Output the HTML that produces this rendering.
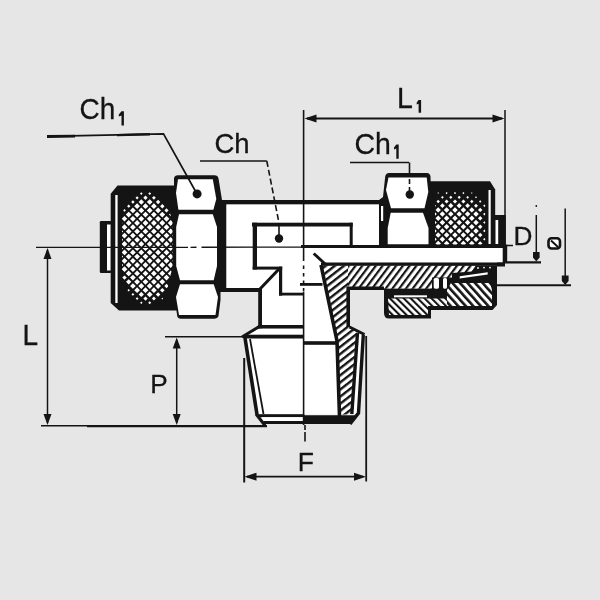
<!DOCTYPE html>
<html><head><meta charset="utf-8">
<style>
html,body{margin:0;padding:0;background:#e6e6e6;overflow:hidden}
svg{display:block;will-change:transform}
text{font-family:"Liberation Sans",sans-serif;fill:#141414;stroke:#141414;stroke-width:0.3px}
</style></head><body>
<svg width="600" height="600" viewBox="0 0 600 600">
<defs>
 <pattern id="h1" patternUnits="userSpaceOnUse" width="5.4" height="20" patternTransform="rotate(37)">
  <rect width="5.4" height="20" fill="#fff"/><rect width="2.2" height="20" fill="#141414"/>
 </pattern>
 <pattern id="h3" patternUnits="userSpaceOnUse" width="5.6" height="20" patternTransform="rotate(52)">
  <rect width="5.6" height="20" fill="#fff"/><rect width="2.4" height="20" fill="#141414"/>
 </pattern>
 <pattern id="h2" patternUnits="userSpaceOnUse" width="4.9" height="20" patternTransform="rotate(-45)">
  <rect width="4.9" height="20" fill="#fff"/><rect width="2.1" height="20" fill="#141414"/>
 </pattern>
 <pattern id="h4" patternUnits="userSpaceOnUse" width="5.6" height="20" patternTransform="rotate(-42)">
  <rect width="5.6" height="20" fill="#fff"/><rect width="2.6" height="20" fill="#141414"/>
 </pattern>
 <clipPath id="ckl"><path d="M122,186 L168,186 L168,206 L172.5,222 L172.5,268 L168,284 L168,310 L122,310 Z"/></clipPath>
 <clipPath id="ckr"><rect x="435" y="185" width="50.5" height="59.5"/></clipPath>
</defs>

<g fill="#141414" stroke="none">
<!-- ===== LEFT TUBE STUB ===== -->
<rect x="99.8" y="221" width="11.5" height="52" rx="1.2"/>
<rect x="107" y="224.5" width="3.8" height="46" fill="#fff"/>

<!-- ===== LEFT KNURL NUT ===== -->
<path d="M110.7,193.7 L117.5,185.5 L178,185.5 L178,310.5 L119,310.5 L110.7,303 Z"/>
<rect x="115.3" y="195" width="2.3" height="108" fill="#fff"/>
<path clip-path="url(#ckl)" fill="#fff" d="M141.30,192.31l1.29,1.29l-1.29,1.29l-1.29,-1.29zM149.70,192.16l1.44,1.44l-1.44,1.44l-1.44,-1.44zM137.10,196.19l1.61,1.61l-1.61,1.61l-1.61,-1.61zM145.50,195.62l2.18,2.18l-2.18,2.18l-2.18,-2.18zM153.90,195.89l1.91,1.91l-1.91,1.91l-1.91,-1.91zM132.90,200.28l1.72,1.72l-1.72,1.72l-1.72,-1.72zM141.30,199.29l2.71,2.71l-2.71,2.71l-2.71,-2.71zM149.70,199.14l2.86,2.86l-2.86,2.86l-2.86,-2.86zM158.10,199.83l2.17,2.17l-2.17,2.17l-2.17,-2.17zM128.70,204.57l1.63,1.63l-1.63,1.63l-1.63,-1.63zM137.10,203.30l2.90,2.90l-2.90,2.90l-2.90,-2.90zM145.50,203.30l2.90,2.90l-2.90,2.90l-2.90,-2.90zM153.90,203.30l2.90,2.90l-2.90,2.90l-2.90,-2.90zM162.30,203.98l2.22,2.22l-2.22,2.22l-2.22,-2.22zM124.50,209.08l1.32,1.32l-1.32,1.32l-1.32,-1.32zM132.90,207.50l2.90,2.90l-2.90,2.90l-2.90,-2.90zM141.30,207.50l2.90,2.90l-2.90,2.90l-2.90,-2.90zM149.70,207.50l2.90,2.90l-2.90,2.90l-2.90,-2.90zM158.10,207.50l2.90,2.90l-2.90,2.90l-2.90,-2.90zM166.50,208.33l2.07,2.07l-2.07,2.07l-2.07,-2.07zM128.70,211.70l2.90,2.90l-2.90,2.90l-2.90,-2.90zM137.10,211.70l2.90,2.90l-2.90,2.90l-2.90,-2.90zM145.50,211.70l2.90,2.90l-2.90,2.90l-2.90,-2.90zM153.90,211.70l2.90,2.90l-2.90,2.90l-2.90,-2.90zM162.30,211.70l2.90,2.90l-2.90,2.90l-2.90,-2.90zM170.70,212.89l1.71,1.71l-1.71,1.71l-1.71,-1.71zM124.50,216.06l2.74,2.74l-2.74,2.74l-2.74,-2.74zM132.90,215.90l2.90,2.90l-2.90,2.90l-2.90,-2.90zM141.30,215.90l2.90,2.90l-2.90,2.90l-2.90,-2.90zM149.70,215.90l2.90,2.90l-2.90,2.90l-2.90,-2.90zM158.10,215.90l2.90,2.90l-2.90,2.90l-2.90,-2.90zM166.50,215.90l2.90,2.90l-2.90,2.90l-2.90,-2.90zM174.90,217.67l1.13,1.13l-1.13,1.13l-1.13,-1.13zM120.30,220.77l2.23,2.23l-2.23,2.23l-2.23,-2.23zM128.70,220.10l2.90,2.90l-2.90,2.90l-2.90,-2.90zM137.10,220.10l2.90,2.90l-2.90,2.90l-2.90,-2.90zM145.50,220.10l2.90,2.90l-2.90,2.90l-2.90,-2.90zM153.90,220.10l2.90,2.90l-2.90,2.90l-2.90,-2.90zM162.30,220.10l2.90,2.90l-2.90,2.90l-2.90,-2.90zM170.70,220.10l2.90,2.90l-2.90,2.90l-2.90,-2.90zM116.10,225.69l1.51,1.51l-1.51,1.51l-1.51,-1.51zM124.50,224.30l2.90,2.90l-2.90,2.90l-2.90,-2.90zM132.90,224.30l2.90,2.90l-2.90,2.90l-2.90,-2.90zM141.30,224.30l2.90,2.90l-2.90,2.90l-2.90,-2.90zM149.70,224.30l2.90,2.90l-2.90,2.90l-2.90,-2.90zM158.10,224.30l2.90,2.90l-2.90,2.90l-2.90,-2.90zM166.50,224.30l2.90,2.90l-2.90,2.90l-2.90,-2.90zM174.90,224.65l2.55,2.55l-2.55,2.55l-2.55,-2.55zM120.30,228.50l2.90,2.90l-2.90,2.90l-2.90,-2.90zM128.70,228.50l2.90,2.90l-2.90,2.90l-2.90,-2.90zM137.10,228.50l2.90,2.90l-2.90,2.90l-2.90,-2.90zM145.50,228.50l2.90,2.90l-2.90,2.90l-2.90,-2.90zM153.90,228.50l2.90,2.90l-2.90,2.90l-2.90,-2.90zM162.30,228.50l2.90,2.90l-2.90,2.90l-2.90,-2.90zM170.70,228.50l2.90,2.90l-2.90,2.90l-2.90,-2.90zM179.10,229.63l1.77,1.77l-1.77,1.77l-1.77,-1.77zM116.10,232.70l2.90,2.90l-2.90,2.90l-2.90,-2.90zM124.50,232.70l2.90,2.90l-2.90,2.90l-2.90,-2.90zM132.90,232.70l2.90,2.90l-2.90,2.90l-2.90,-2.90zM141.30,232.70l2.90,2.90l-2.90,2.90l-2.90,-2.90zM149.70,232.70l2.90,2.90l-2.90,2.90l-2.90,-2.90zM158.10,232.70l2.90,2.90l-2.90,2.90l-2.90,-2.90zM166.50,232.70l2.90,2.90l-2.90,2.90l-2.90,-2.90zM174.90,232.70l2.90,2.90l-2.90,2.90l-2.90,-2.90zM111.90,237.80l2.00,2.00l-2.00,2.00l-2.00,-2.00zM120.30,236.90l2.90,2.90l-2.90,2.90l-2.90,-2.90zM128.70,236.90l2.90,2.90l-2.90,2.90l-2.90,-2.90zM137.10,236.90l2.90,2.90l-2.90,2.90l-2.90,-2.90zM145.50,236.90l2.90,2.90l-2.90,2.90l-2.90,-2.90zM153.90,236.90l2.90,2.90l-2.90,2.90l-2.90,-2.90zM162.30,236.90l2.90,2.90l-2.90,2.90l-2.90,-2.90zM170.70,236.90l2.90,2.90l-2.90,2.90l-2.90,-2.90zM179.10,236.90l2.90,2.90l-2.90,2.90l-2.90,-2.90zM116.10,241.10l2.90,2.90l-2.90,2.90l-2.90,-2.90zM124.50,241.10l2.90,2.90l-2.90,2.90l-2.90,-2.90zM132.90,241.10l2.90,2.90l-2.90,2.90l-2.90,-2.90zM141.30,241.10l2.90,2.90l-2.90,2.90l-2.90,-2.90zM149.70,241.10l2.90,2.90l-2.90,2.90l-2.90,-2.90zM158.10,241.10l2.90,2.90l-2.90,2.90l-2.90,-2.90zM166.50,241.10l2.90,2.90l-2.90,2.90l-2.90,-2.90zM174.90,241.10l2.90,2.90l-2.90,2.90l-2.90,-2.90zM183.30,241.80l2.20,2.20l-2.20,2.20l-2.20,-2.20zM111.90,245.85l2.35,2.35l-2.35,2.35l-2.35,-2.35zM120.30,245.30l2.90,2.90l-2.90,2.90l-2.90,-2.90zM128.70,245.30l2.90,2.90l-2.90,2.90l-2.90,-2.90zM137.10,245.30l2.90,2.90l-2.90,2.90l-2.90,-2.90zM145.50,245.30l2.90,2.90l-2.90,2.90l-2.90,-2.90zM153.90,245.30l2.90,2.90l-2.90,2.90l-2.90,-2.90zM162.30,245.30l2.90,2.90l-2.90,2.90l-2.90,-2.90zM170.70,245.30l2.90,2.90l-2.90,2.90l-2.90,-2.90zM179.10,245.30l2.90,2.90l-2.90,2.90l-2.90,-2.90zM116.10,249.50l2.90,2.90l-2.90,2.90l-2.90,-2.90zM124.50,249.50l2.90,2.90l-2.90,2.90l-2.90,-2.90zM132.90,249.50l2.90,2.90l-2.90,2.90l-2.90,-2.90zM141.30,249.50l2.90,2.90l-2.90,2.90l-2.90,-2.90zM149.70,249.50l2.90,2.90l-2.90,2.90l-2.90,-2.90zM158.10,249.50l2.90,2.90l-2.90,2.90l-2.90,-2.90zM166.50,249.50l2.90,2.90l-2.90,2.90l-2.90,-2.90zM174.90,249.50l2.90,2.90l-2.90,2.90l-2.90,-2.90zM183.30,250.39l2.01,2.01l-2.01,2.01l-2.01,-2.01zM111.90,255.67l0.93,0.93l-0.93,0.93l-0.93,-0.93zM120.30,253.70l2.90,2.90l-2.90,2.90l-2.90,-2.90zM128.70,253.70l2.90,2.90l-2.90,2.90l-2.90,-2.90zM137.10,253.70l2.90,2.90l-2.90,2.90l-2.90,-2.90zM145.50,253.70l2.90,2.90l-2.90,2.90l-2.90,-2.90zM153.90,253.70l2.90,2.90l-2.90,2.90l-2.90,-2.90zM162.30,253.70l2.90,2.90l-2.90,2.90l-2.90,-2.90zM170.70,253.70l2.90,2.90l-2.90,2.90l-2.90,-2.90zM179.10,253.70l2.90,2.90l-2.90,2.90l-2.90,-2.90zM116.10,258.74l2.06,2.06l-2.06,2.06l-2.06,-2.06zM124.50,257.90l2.90,2.90l-2.90,2.90l-2.90,-2.90zM132.90,257.90l2.90,2.90l-2.90,2.90l-2.90,-2.90zM141.30,257.90l2.90,2.90l-2.90,2.90l-2.90,-2.90zM149.70,257.90l2.90,2.90l-2.90,2.90l-2.90,-2.90zM158.10,257.90l2.90,2.90l-2.90,2.90l-2.90,-2.90zM166.50,257.90l2.90,2.90l-2.90,2.90l-2.90,-2.90zM174.90,257.90l2.90,2.90l-2.90,2.90l-2.90,-2.90zM120.30,262.10l2.90,2.90l-2.90,2.90l-2.90,-2.90zM128.70,262.10l2.90,2.90l-2.90,2.90l-2.90,-2.90zM137.10,262.10l2.90,2.90l-2.90,2.90l-2.90,-2.90zM145.50,262.10l2.90,2.90l-2.90,2.90l-2.90,-2.90zM153.90,262.10l2.90,2.90l-2.90,2.90l-2.90,-2.90zM162.30,262.10l2.90,2.90l-2.90,2.90l-2.90,-2.90zM170.70,262.10l2.90,2.90l-2.90,2.90l-2.90,-2.90zM179.10,263.33l1.67,1.67l-1.67,1.67l-1.67,-1.67zM124.50,266.30l2.90,2.90l-2.90,2.90l-2.90,-2.90zM132.90,266.30l2.90,2.90l-2.90,2.90l-2.90,-2.90zM141.30,266.30l2.90,2.90l-2.90,2.90l-2.90,-2.90zM149.70,266.30l2.90,2.90l-2.90,2.90l-2.90,-2.90zM158.10,266.30l2.90,2.90l-2.90,2.90l-2.90,-2.90zM166.50,266.30l2.90,2.90l-2.90,2.90l-2.90,-2.90zM174.90,266.67l2.53,2.53l-2.53,2.53l-2.53,-2.53zM120.30,271.86l1.54,1.54l-1.54,1.54l-1.54,-1.54zM128.70,270.50l2.90,2.90l-2.90,2.90l-2.90,-2.90zM137.10,270.50l2.90,2.90l-2.90,2.90l-2.90,-2.90zM145.50,270.50l2.90,2.90l-2.90,2.90l-2.90,-2.90zM153.90,270.50l2.90,2.90l-2.90,2.90l-2.90,-2.90zM162.30,270.50l2.90,2.90l-2.90,2.90l-2.90,-2.90zM170.70,270.50l2.90,2.90l-2.90,2.90l-2.90,-2.90zM124.50,275.39l2.21,2.21l-2.21,2.21l-2.21,-2.21zM132.90,274.70l2.90,2.90l-2.90,2.90l-2.90,-2.90zM141.30,274.70l2.90,2.90l-2.90,2.90l-2.90,-2.90zM149.70,274.70l2.90,2.90l-2.90,2.90l-2.90,-2.90zM158.10,274.70l2.90,2.90l-2.90,2.90l-2.90,-2.90zM166.50,274.70l2.90,2.90l-2.90,2.90l-2.90,-2.90zM174.90,276.49l1.11,1.11l-1.11,1.11l-1.11,-1.11zM128.70,279.15l2.65,2.65l-2.65,2.65l-2.65,-2.65zM137.10,278.90l2.90,2.90l-2.90,2.90l-2.90,-2.90zM145.50,278.90l2.90,2.90l-2.90,2.90l-2.90,-2.90zM153.90,278.90l2.90,2.90l-2.90,2.90l-2.90,-2.90zM162.30,278.90l2.90,2.90l-2.90,2.90l-2.90,-2.90zM170.70,280.06l1.74,1.74l-1.74,1.74l-1.74,-1.74zM132.90,283.13l2.87,2.87l-2.87,2.87l-2.87,-2.87zM141.30,283.10l2.90,2.90l-2.90,2.90l-2.90,-2.90zM149.70,283.10l2.90,2.90l-2.90,2.90l-2.90,-2.90zM158.10,283.10l2.90,2.90l-2.90,2.90l-2.90,-2.90zM166.50,283.86l2.14,2.14l-2.14,2.14l-2.14,-2.14zM128.70,288.97l1.23,1.23l-1.23,1.23l-1.23,-1.23zM137.10,287.34l2.86,2.86l-2.86,2.86l-2.86,-2.86zM145.50,287.30l2.90,2.90l-2.90,2.90l-2.90,-2.90zM153.90,287.30l2.90,2.90l-2.90,2.90l-2.90,-2.90zM162.30,287.89l2.31,2.31l-2.31,2.31l-2.31,-2.31zM132.90,292.95l1.45,1.45l-1.45,1.45l-1.45,-1.45zM141.30,291.77l2.63,2.63l-2.63,2.63l-2.63,-2.63zM149.70,291.50l2.90,2.90l-2.90,2.90l-2.90,-2.90zM158.10,292.14l2.26,2.26l-2.26,2.26l-2.26,-2.26zM137.10,297.16l1.44,1.44l-1.44,1.44l-1.44,-1.44zM145.50,296.43l2.17,2.17l-2.17,2.17l-2.17,-2.17zM153.90,296.62l1.98,1.98l-1.98,1.98l-1.98,-1.98zM162.30,297.71l0.89,0.89l-0.89,0.89l-0.89,-0.89zM141.30,301.59l1.21,1.21l-1.21,1.21l-1.21,-1.21zM149.70,301.32l1.48,1.48l-1.48,1.48l-1.48,-1.48z"/>

<!-- ===== LEFT HEX NUT ===== -->
<path d="M174,178.5 Q174.5,175.2 178,175.2 L214.5,175.2 Q217.8,175.2 218.5,178.5 L222,200 L226.5,200 L226.5,292 L220.5,292 L220.5,300 L218.5,316 Q217.5,318.8 214,318.8 L181,318.8 Q177.8,318.8 177.2,316 L175,300 L174,200 Z"/>
<path d="M178,179.3 L212.8,179.3 L216.3,199 L213.4,209.7 L178.4,209.7 L176,193 Z" fill="#fff"/>
<path d="M179,214.3 L212.8,214.3 L217,227 L217,266 L213.7,280.2 L180,280.2 L176.2,266 L176.2,227 Z" fill="#fff"/>
<path d="M180,284.2 L213.7,284.2 L218,297 L215.5,315 L179,315 L176,297 Z" fill="#fff"/>

<!-- ===== BODY ===== -->
<rect x="226.5" y="204.3" width="153" height="84" fill="#fff"/>
<rect x="217" y="200" width="163" height="4.3"/>
<rect x="226" y="288" width="36" height="4"/>
<rect x="262" y="286" width="41" height="39" fill="#fff"/>
<rect x="258.2" y="288" width="3.8" height="40.7"/>
<rect x="258" y="325" width="46" height="3.7"/>
<path d="M259,328.7 L303,328.7 L303,414 L256,414 L243,336 Z" fill="#fff"/>
<line x1="260" y1="326" x2="242" y2="337" stroke="#141414" stroke-width="3"/>
<rect x="246" y="334.7" width="58" height="3.8"/>
<line x1="244.7" y1="336" x2="257" y2="414.5" stroke="#141414" stroke-width="3.6"/>
<line x1="250" y1="339" x2="263.5" y2="414" stroke="#141414" stroke-width="1.8"/>
<rect x="257.5" y="414.2" width="47" height="3"/>
<rect x="263.5" y="421" width="41" height="3"/>
<rect x="262" y="417.2" width="42" height="3.8" fill="#fff"/>
<line x1="256" y1="414" x2="265" y2="425.5" stroke="#141414" stroke-width="3"/>

<!-- passage -->
<rect x="252" y="222.7" width="100.7" height="3.8"/>
<rect x="252.7" y="222.7" width="4.3" height="46.8"/>
<rect x="252.7" y="266.6" width="29.5" height="3"/>
<rect x="279" y="266.6" width="3.2" height="29"/>
<rect x="279" y="292.7" width="24.5" height="2.8"/>
<line x1="259.5" y1="289.5" x2="279.5" y2="268.5" stroke="#141414" stroke-width="3"/>
<rect x="349.7" y="222.7" width="3" height="24"/>

<!-- ===== RIGHT HALF SECTION ===== -->
<rect x="303" y="247.5" width="37" height="167" fill="#fff"/>
<rect x="300" y="283" width="22.5" height="2.8"/>
<rect x="303" y="341.2" width="35" height="3.6"/>
<!-- hatched body -->
<path d="M384,288.3 L430,288.3 L430,265.5 L497,265.5 L497,262 L505,262 L505,266.5 L497,266.5 L497,305 L492.5,310 L431,310 L431,318.5 L389,318.5 Q384,318.5 384,313 Z"/>
<path d="M346,265.5 L476,265.5 L472,271.5 L452,273 L452,277.5 L432,277.5 L432,288.5 L346,288.5 Z" fill="url(#h1)"/>
<g fill="#fff"><circle cx="478" cy="268" r="0.9"/><circle cx="484" cy="267.6" r="0.9"/><circle cx="490" cy="267.6" r="0.9"/></g>
<path d="M322.5,265.5 L348,265.5 L348,327 L357,331 L351,414.5 L340,414.5 L338.5,345 Z" fill="url(#h3)"/>
<path d="M357,333 L364,334.5 L358.5,413 L351.5,414 Z" fill="#fff"/>
<path d="M321,265 L337,341 L339.5,416" fill="none" stroke="#141414" stroke-width="3.6"/>
<path d="M348.2,327 L348.2,288.3 L384,288.3" fill="none" stroke="#141414" stroke-width="3.6"/>
<path d="M349.5,327 L364.5,334.5" fill="none" stroke="#141414" stroke-width="3"/>
<path d="M357.5,333 L351.8,414" fill="none" stroke="#141414" stroke-width="3.4"/>
<path d="M363.3,335 L358.5,413 L350,424" fill="none" stroke="#141414" stroke-width="3.4"/>
<path d="M303,415.2 L352,415.2 L357.5,415.2 L350.5,424 L303,424 Z"/>

<!-- pipe -->
<rect x="303" y="247.5" width="200" height="15" fill="#fff"/>
<rect x="301" y="245" width="204" height="3"/>
<rect x="321" y="262.5" width="182" height="3.3"/>
<rect x="502.7" y="244.5" width="4.5" height="19"/>
<line x1="313.7" y1="253.5" x2="325.7" y2="264.5" stroke="#141414" stroke-width="3"/>

<!-- small nut under pipe -->
<path d="M388,298.5 L447,298.5 L447,306 L428,306 L428,315 L389,315 Z" fill="url(#h2)"/>
<path d="M451,283 L490,283 L492,290 L492,306 L447,306 L447,290 Z" fill="url(#h4)"/>
<rect x="394" y="295.3" width="33" height="2" fill="#fff"/>
<rect x="433.7" y="278" width="5.3" height="10.7" rx="1.6" fill="#fff"/>
<rect x="443" y="278" width="4" height="10.7" rx="1.6" fill="#fff"/>
<path d="M459.7,276.3 L487.7,272.3 L487.7,274.5 L459.7,278.5 Z" fill="#fff"/>

<!-- ===== RIGHT HEX NUT ===== -->
<path d="M379,200 L383,197 L385.2,176.5 Q385.8,173 389,173 L427,173 Q430,173 430.5,176.5 L432,246 L379,246 Z"/>
<path d="M388.5,177.5 L426.7,177.5 L428.3,192 L424.5,208.2 L391,208.2 L386,190 Z" fill="#fff"/>
<path d="M390.7,212.7 L423,212.7 L428.5,228 L428.5,244.2 L387.7,244.2 L387.7,228 Z" fill="#fff"/>
<rect x="381" y="206" width="2.2" height="15" fill="#fff"/>

<!-- ===== RIGHT KNURL NUT ===== -->
<path d="M430,181.25 L490,181.25 L495.2,189.5 L495.2,246 L430,246 Z"/>
<path clip-path="url(#ckr)" fill="#fff" d="M438.20,192.33l0.77,0.77l-0.77,0.77l-0.77,-0.77zM446.60,192.04l1.06,1.06l-1.06,1.06l-1.06,-1.06zM455.00,191.94l1.16,1.16l-1.16,1.16l-1.16,-1.16zM463.40,192.04l1.06,1.06l-1.06,1.06l-1.06,-1.06zM471.80,192.33l0.77,0.77l-0.77,0.77l-0.77,-0.77zM434.00,196.27l1.03,1.03l-1.03,1.03l-1.03,-1.03zM442.40,195.88l1.42,1.42l-1.42,1.42l-1.42,-1.42zM450.80,195.69l1.61,1.61l-1.61,1.61l-1.61,-1.61zM459.20,195.69l1.61,1.61l-1.61,1.61l-1.61,-1.61zM467.60,195.88l1.42,1.42l-1.42,1.42l-1.42,-1.42zM476.00,196.27l1.03,1.03l-1.03,1.03l-1.03,-1.03zM429.80,200.25l1.25,1.25l-1.25,1.25l-1.25,-1.25zM438.20,199.77l1.73,1.73l-1.73,1.73l-1.73,-1.73zM446.60,199.48l2.02,2.02l-2.02,2.02l-2.02,-2.02zM455.00,199.38l2.12,2.12l-2.12,2.12l-2.12,-2.12zM463.40,199.48l2.02,2.02l-2.02,2.02l-2.02,-2.02zM471.80,199.77l1.73,1.73l-1.73,1.73l-1.73,-1.73zM480.20,200.25l1.25,1.25l-1.25,1.25l-1.25,-1.25zM425.60,204.29l1.41,1.41l-1.41,1.41l-1.41,-1.41zM434.00,203.71l1.99,1.99l-1.99,1.99l-1.99,-1.99zM442.40,203.32l2.38,2.38l-2.38,2.38l-2.38,-2.38zM450.80,203.12l2.58,2.58l-2.58,2.58l-2.58,-2.58zM459.20,203.12l2.58,2.58l-2.58,2.58l-2.58,-2.58zM467.60,203.32l2.38,2.38l-2.38,2.38l-2.38,-2.38zM476.00,203.71l1.99,1.99l-1.99,1.99l-1.99,-1.99zM484.40,204.42l1.28,1.28l-1.28,1.28l-1.28,-1.28zM429.80,207.69l2.21,2.21l-2.21,2.21l-2.21,-2.21zM438.20,207.21l2.69,2.69l-2.69,2.69l-2.69,-2.69zM446.60,207.15l2.75,2.75l-2.75,2.75l-2.75,-2.75zM455.00,207.15l2.75,2.75l-2.75,2.75l-2.75,-2.75zM463.40,207.15l2.75,2.75l-2.75,2.75l-2.75,-2.75zM471.80,207.21l2.69,2.69l-2.69,2.69l-2.69,-2.69zM480.20,207.69l2.21,2.21l-2.21,2.21l-2.21,-2.21zM425.60,211.72l2.38,2.38l-2.38,2.38l-2.38,-2.38zM434.00,211.35l2.75,2.75l-2.75,2.75l-2.75,-2.75zM442.40,211.35l2.75,2.75l-2.75,2.75l-2.75,-2.75zM450.80,211.35l2.75,2.75l-2.75,2.75l-2.75,-2.75zM459.20,211.35l2.75,2.75l-2.75,2.75l-2.75,-2.75zM467.60,211.35l2.75,2.75l-2.75,2.75l-2.75,-2.75zM476.00,211.35l2.75,2.75l-2.75,2.75l-2.75,-2.75zM484.40,212.82l1.28,1.28l-1.28,1.28l-1.28,-1.28zM429.80,215.55l2.75,2.75l-2.75,2.75l-2.75,-2.75zM438.20,215.55l2.75,2.75l-2.75,2.75l-2.75,-2.75zM446.60,215.55l2.75,2.75l-2.75,2.75l-2.75,-2.75zM455.00,215.55l2.75,2.75l-2.75,2.75l-2.75,-2.75zM463.40,215.55l2.75,2.75l-2.75,2.75l-2.75,-2.75zM471.80,215.55l2.75,2.75l-2.75,2.75l-2.75,-2.75zM480.20,216.05l2.25,2.25l-2.25,2.25l-2.25,-2.25zM425.60,219.75l2.75,2.75l-2.75,2.75l-2.75,-2.75zM434.00,219.75l2.75,2.75l-2.75,2.75l-2.75,-2.75zM442.40,219.75l2.75,2.75l-2.75,2.75l-2.75,-2.75zM450.80,219.75l2.75,2.75l-2.75,2.75l-2.75,-2.75zM459.20,219.75l2.75,2.75l-2.75,2.75l-2.75,-2.75zM467.60,219.75l2.75,2.75l-2.75,2.75l-2.75,-2.75zM476.00,219.75l2.75,2.75l-2.75,2.75l-2.75,-2.75zM484.40,221.22l1.28,1.28l-1.28,1.28l-1.28,-1.28zM429.80,223.95l2.75,2.75l-2.75,2.75l-2.75,-2.75zM438.20,223.95l2.75,2.75l-2.75,2.75l-2.75,-2.75zM446.60,223.95l2.75,2.75l-2.75,2.75l-2.75,-2.75zM455.00,223.95l2.75,2.75l-2.75,2.75l-2.75,-2.75zM463.40,223.95l2.75,2.75l-2.75,2.75l-2.75,-2.75zM471.80,223.95l2.75,2.75l-2.75,2.75l-2.75,-2.75zM480.20,224.45l2.25,2.25l-2.25,2.25l-2.25,-2.25zM425.60,228.15l2.75,2.75l-2.75,2.75l-2.75,-2.75zM434.00,228.15l2.75,2.75l-2.75,2.75l-2.75,-2.75zM442.40,228.15l2.75,2.75l-2.75,2.75l-2.75,-2.75zM450.80,228.15l2.75,2.75l-2.75,2.75l-2.75,-2.75zM459.20,228.15l2.75,2.75l-2.75,2.75l-2.75,-2.75zM467.60,228.15l2.75,2.75l-2.75,2.75l-2.75,-2.75zM476.00,228.15l2.75,2.75l-2.75,2.75l-2.75,-2.75zM484.40,229.62l1.28,1.28l-1.28,1.28l-1.28,-1.28zM429.80,232.35l2.75,2.75l-2.75,2.75l-2.75,-2.75zM438.20,232.35l2.75,2.75l-2.75,2.75l-2.75,-2.75zM446.60,232.35l2.75,2.75l-2.75,2.75l-2.75,-2.75zM455.00,232.35l2.75,2.75l-2.75,2.75l-2.75,-2.75zM463.40,232.35l2.75,2.75l-2.75,2.75l-2.75,-2.75zM471.80,232.35l2.75,2.75l-2.75,2.75l-2.75,-2.75zM480.20,232.85l2.25,2.25l-2.25,2.25l-2.25,-2.25zM425.60,236.55l2.75,2.75l-2.75,2.75l-2.75,-2.75zM434.00,236.55l2.75,2.75l-2.75,2.75l-2.75,-2.75zM442.40,236.55l2.75,2.75l-2.75,2.75l-2.75,-2.75zM450.80,236.55l2.75,2.75l-2.75,2.75l-2.75,-2.75zM459.20,236.55l2.75,2.75l-2.75,2.75l-2.75,-2.75zM467.60,236.55l2.75,2.75l-2.75,2.75l-2.75,-2.75zM476.00,236.55l2.75,2.75l-2.75,2.75l-2.75,-2.75zM484.40,238.02l1.28,1.28l-1.28,1.28l-1.28,-1.28zM429.80,240.75l2.75,2.75l-2.75,2.75l-2.75,-2.75zM438.20,240.75l2.75,2.75l-2.75,2.75l-2.75,-2.75zM446.60,240.75l2.75,2.75l-2.75,2.75l-2.75,-2.75zM455.00,240.75l2.75,2.75l-2.75,2.75l-2.75,-2.75zM463.40,240.75l2.75,2.75l-2.75,2.75l-2.75,-2.75zM471.80,240.75l2.75,2.75l-2.75,2.75l-2.75,-2.75zM480.20,241.25l2.25,2.25l-2.25,2.25l-2.25,-2.25zM425.60,244.95l2.75,2.75l-2.75,2.75l-2.75,-2.75zM434.00,244.95l2.75,2.75l-2.75,2.75l-2.75,-2.75zM442.40,244.95l2.75,2.75l-2.75,2.75l-2.75,-2.75zM450.80,244.95l2.75,2.75l-2.75,2.75l-2.75,-2.75zM459.20,244.95l2.75,2.75l-2.75,2.75l-2.75,-2.75zM467.60,244.95l2.75,2.75l-2.75,2.75l-2.75,-2.75zM476.00,244.95l2.75,2.75l-2.75,2.75l-2.75,-2.75zM484.40,246.42l1.28,1.28l-1.28,1.28l-1.28,-1.28zM429.80,249.15l2.75,2.75l-2.75,2.75l-2.75,-2.75zM438.20,249.15l2.75,2.75l-2.75,2.75l-2.75,-2.75zM446.60,249.15l2.75,2.75l-2.75,2.75l-2.75,-2.75zM455.00,249.15l2.75,2.75l-2.75,2.75l-2.75,-2.75zM463.40,249.15l2.75,2.75l-2.75,2.75l-2.75,-2.75zM471.80,249.15l2.75,2.75l-2.75,2.75l-2.75,-2.75zM480.20,249.65l2.25,2.25l-2.25,2.25l-2.25,-2.25zM425.60,253.35l2.75,2.75l-2.75,2.75l-2.75,-2.75zM434.00,253.35l2.75,2.75l-2.75,2.75l-2.75,-2.75zM442.40,253.35l2.75,2.75l-2.75,2.75l-2.75,-2.75zM450.80,253.35l2.75,2.75l-2.75,2.75l-2.75,-2.75zM459.20,253.35l2.75,2.75l-2.75,2.75l-2.75,-2.75zM467.60,253.35l2.75,2.75l-2.75,2.75l-2.75,-2.75zM476.00,253.35l2.75,2.75l-2.75,2.75l-2.75,-2.75zM484.40,254.82l1.28,1.28l-1.28,1.28l-1.28,-1.28zM429.80,257.55l2.75,2.75l-2.75,2.75l-2.75,-2.75zM438.20,257.55l2.75,2.75l-2.75,2.75l-2.75,-2.75zM446.60,257.55l2.75,2.75l-2.75,2.75l-2.75,-2.75zM455.00,257.55l2.75,2.75l-2.75,2.75l-2.75,-2.75zM463.40,257.55l2.75,2.75l-2.75,2.75l-2.75,-2.75zM471.80,257.55l2.75,2.75l-2.75,2.75l-2.75,-2.75zM480.20,258.05l2.25,2.25l-2.25,2.25l-2.25,-2.25zM425.60,261.75l2.75,2.75l-2.75,2.75l-2.75,-2.75zM434.00,261.75l2.75,2.75l-2.75,2.75l-2.75,-2.75zM442.40,261.75l2.75,2.75l-2.75,2.75l-2.75,-2.75zM450.80,261.75l2.75,2.75l-2.75,2.75l-2.75,-2.75zM459.20,261.75l2.75,2.75l-2.75,2.75l-2.75,-2.75zM467.60,261.75l2.75,2.75l-2.75,2.75l-2.75,-2.75zM476.00,261.75l2.75,2.75l-2.75,2.75l-2.75,-2.75zM484.40,263.22l1.28,1.28l-1.28,1.28l-1.28,-1.28zM429.80,265.95l2.75,2.75l-2.75,2.75l-2.75,-2.75zM438.20,265.95l2.75,2.75l-2.75,2.75l-2.75,-2.75zM446.60,265.95l2.75,2.75l-2.75,2.75l-2.75,-2.75zM455.00,265.95l2.75,2.75l-2.75,2.75l-2.75,-2.75zM463.40,265.95l2.75,2.75l-2.75,2.75l-2.75,-2.75zM471.80,265.95l2.75,2.75l-2.75,2.75l-2.75,-2.75zM480.20,266.45l2.25,2.25l-2.25,2.25l-2.25,-2.25zM425.60,270.15l2.75,2.75l-2.75,2.75l-2.75,-2.75zM434.00,270.15l2.75,2.75l-2.75,2.75l-2.75,-2.75zM442.40,270.15l2.75,2.75l-2.75,2.75l-2.75,-2.75zM450.80,270.15l2.75,2.75l-2.75,2.75l-2.75,-2.75zM459.20,270.15l2.75,2.75l-2.75,2.75l-2.75,-2.75zM467.60,270.15l2.75,2.75l-2.75,2.75l-2.75,-2.75zM476.00,270.15l2.75,2.75l-2.75,2.75l-2.75,-2.75zM484.40,271.62l1.28,1.28l-1.28,1.28l-1.28,-1.28zM429.80,274.35l2.75,2.75l-2.75,2.75l-2.75,-2.75zM438.20,274.35l2.75,2.75l-2.75,2.75l-2.75,-2.75zM446.60,274.35l2.75,2.75l-2.75,2.75l-2.75,-2.75zM455.00,274.35l2.75,2.75l-2.75,2.75l-2.75,-2.75zM463.40,274.35l2.75,2.75l-2.75,2.75l-2.75,-2.75zM471.80,274.35l2.75,2.75l-2.75,2.75l-2.75,-2.75zM480.20,274.85l2.25,2.25l-2.25,2.25l-2.25,-2.25zM425.60,278.55l2.75,2.75l-2.75,2.75l-2.75,-2.75zM434.00,278.55l2.75,2.75l-2.75,2.75l-2.75,-2.75zM442.40,278.55l2.75,2.75l-2.75,2.75l-2.75,-2.75zM450.80,278.55l2.75,2.75l-2.75,2.75l-2.75,-2.75zM459.20,278.55l2.75,2.75l-2.75,2.75l-2.75,-2.75zM467.60,278.55l2.75,2.75l-2.75,2.75l-2.75,-2.75zM476.00,278.55l2.75,2.75l-2.75,2.75l-2.75,-2.75zM484.40,280.02l1.28,1.28l-1.28,1.28l-1.28,-1.28zM429.80,282.75l2.75,2.75l-2.75,2.75l-2.75,-2.75zM438.20,282.75l2.75,2.75l-2.75,2.75l-2.75,-2.75zM446.60,282.75l2.75,2.75l-2.75,2.75l-2.75,-2.75zM455.00,282.75l2.75,2.75l-2.75,2.75l-2.75,-2.75zM463.40,282.75l2.75,2.75l-2.75,2.75l-2.75,-2.75zM471.80,282.75l2.75,2.75l-2.75,2.75l-2.75,-2.75zM480.20,283.25l2.25,2.25l-2.25,2.25l-2.25,-2.25zM425.60,286.95l2.75,2.75l-2.75,2.75l-2.75,-2.75zM434.00,286.95l2.75,2.75l-2.75,2.75l-2.75,-2.75zM442.40,286.95l2.75,2.75l-2.75,2.75l-2.75,-2.75zM450.80,286.95l2.75,2.75l-2.75,2.75l-2.75,-2.75zM459.20,286.95l2.75,2.75l-2.75,2.75l-2.75,-2.75zM467.60,286.95l2.75,2.75l-2.75,2.75l-2.75,-2.75zM476.00,286.95l2.75,2.75l-2.75,2.75l-2.75,-2.75zM484.40,288.42l1.28,1.28l-1.28,1.28l-1.28,-1.28zM429.80,291.15l2.75,2.75l-2.75,2.75l-2.75,-2.75zM438.20,291.15l2.75,2.75l-2.75,2.75l-2.75,-2.75zM446.60,291.15l2.75,2.75l-2.75,2.75l-2.75,-2.75zM455.00,291.15l2.75,2.75l-2.75,2.75l-2.75,-2.75zM463.40,291.15l2.75,2.75l-2.75,2.75l-2.75,-2.75zM471.80,291.15l2.75,2.75l-2.75,2.75l-2.75,-2.75zM480.20,291.65l2.25,2.25l-2.25,2.25l-2.25,-2.25zM425.60,295.35l2.75,2.75l-2.75,2.75l-2.75,-2.75zM434.00,295.35l2.75,2.75l-2.75,2.75l-2.75,-2.75zM442.40,295.35l2.75,2.75l-2.75,2.75l-2.75,-2.75zM450.80,295.35l2.75,2.75l-2.75,2.75l-2.75,-2.75zM459.20,295.35l2.75,2.75l-2.75,2.75l-2.75,-2.75zM467.60,295.35l2.75,2.75l-2.75,2.75l-2.75,-2.75zM476.00,295.35l2.75,2.75l-2.75,2.75l-2.75,-2.75zM484.40,296.82l1.28,1.28l-1.28,1.28l-1.28,-1.28zM429.80,299.55l2.75,2.75l-2.75,2.75l-2.75,-2.75zM438.20,299.55l2.75,2.75l-2.75,2.75l-2.75,-2.75zM446.60,299.55l2.75,2.75l-2.75,2.75l-2.75,-2.75zM455.00,299.55l2.75,2.75l-2.75,2.75l-2.75,-2.75zM463.40,299.55l2.75,2.75l-2.75,2.75l-2.75,-2.75zM471.80,299.55l2.75,2.75l-2.75,2.75l-2.75,-2.75zM480.20,300.05l2.25,2.25l-2.25,2.25l-2.25,-2.25zM425.60,303.75l2.75,2.75l-2.75,2.75l-2.75,-2.75zM434.00,303.75l2.75,2.75l-2.75,2.75l-2.75,-2.75zM442.40,303.75l2.75,2.75l-2.75,2.75l-2.75,-2.75zM450.80,303.75l2.75,2.75l-2.75,2.75l-2.75,-2.75zM459.20,303.75l2.75,2.75l-2.75,2.75l-2.75,-2.75zM467.60,303.75l2.75,2.75l-2.75,2.75l-2.75,-2.75zM476.00,303.75l2.75,2.75l-2.75,2.75l-2.75,-2.75zM484.40,305.22l1.28,1.28l-1.28,1.28l-1.28,-1.28zM429.80,307.95l2.75,2.75l-2.75,2.75l-2.75,-2.75zM438.20,307.95l2.75,2.75l-2.75,2.75l-2.75,-2.75zM446.60,307.95l2.75,2.75l-2.75,2.75l-2.75,-2.75zM455.00,307.95l2.75,2.75l-2.75,2.75l-2.75,-2.75zM463.40,307.95l2.75,2.75l-2.75,2.75l-2.75,-2.75zM471.80,307.95l2.75,2.75l-2.75,2.75l-2.75,-2.75zM480.20,308.45l2.25,2.25l-2.25,2.25l-2.25,-2.25zM425.60,312.15l2.75,2.75l-2.75,2.75l-2.75,-2.75zM434.00,312.15l2.75,2.75l-2.75,2.75l-2.75,-2.75zM442.40,312.15l2.75,2.75l-2.75,2.75l-2.75,-2.75zM450.80,312.15l2.75,2.75l-2.75,2.75l-2.75,-2.75zM459.20,312.15l2.75,2.75l-2.75,2.75l-2.75,-2.75zM467.60,312.15l2.75,2.75l-2.75,2.75l-2.75,-2.75zM476.00,312.15l2.75,2.75l-2.75,2.75l-2.75,-2.75zM484.40,313.62l1.28,1.28l-1.28,1.28l-1.28,-1.28zM429.80,316.35l2.75,2.75l-2.75,2.75l-2.75,-2.75zM438.20,316.35l2.75,2.75l-2.75,2.75l-2.75,-2.75zM446.60,316.35l2.75,2.75l-2.75,2.75l-2.75,-2.75zM455.00,316.35l2.75,2.75l-2.75,2.75l-2.75,-2.75zM463.40,316.35l2.75,2.75l-2.75,2.75l-2.75,-2.75zM471.80,316.35l2.75,2.75l-2.75,2.75l-2.75,-2.75zM480.20,316.85l2.25,2.25l-2.25,2.25l-2.25,-2.25zM425.60,320.55l2.75,2.75l-2.75,2.75l-2.75,-2.75zM434.00,320.55l2.75,2.75l-2.75,2.75l-2.75,-2.75zM442.40,320.55l2.75,2.75l-2.75,2.75l-2.75,-2.75zM450.80,320.55l2.75,2.75l-2.75,2.75l-2.75,-2.75zM459.20,320.55l2.75,2.75l-2.75,2.75l-2.75,-2.75zM467.60,320.55l2.75,2.75l-2.75,2.75l-2.75,-2.75zM476.00,320.55l2.75,2.75l-2.75,2.75l-2.75,-2.75zM484.40,322.02l1.28,1.28l-1.28,1.28l-1.28,-1.28zM429.80,324.75l2.75,2.75l-2.75,2.75l-2.75,-2.75zM438.20,324.75l2.75,2.75l-2.75,2.75l-2.75,-2.75zM446.60,324.75l2.75,2.75l-2.75,2.75l-2.75,-2.75zM455.00,324.75l2.75,2.75l-2.75,2.75l-2.75,-2.75zM463.40,324.75l2.75,2.75l-2.75,2.75l-2.75,-2.75zM471.80,324.75l2.75,2.75l-2.75,2.75l-2.75,-2.75zM480.20,325.25l2.25,2.25l-2.25,2.25l-2.25,-2.25z"/>
<rect x="488.5" y="190" width="2.2" height="54" fill="#fff"/>
<rect x="494.5" y="215" width="11.3" height="31"/>
<rect x="495.5" y="220" width="2.7" height="24" fill="#fff"/>
</g>

<!-- ===== CENTER LINES ===== -->
<g stroke="#141414" fill="none">
<line x1="36" y1="247.3" x2="176" y2="247.3" stroke-width="1.3"/>
<line x1="176" y1="247.3" x2="303" y2="247.1" stroke-width="1.3" stroke-dasharray="12,2.5,6,5,200"/>
<line x1="303.6" y1="110" x2="303.6" y2="261" stroke-width="1.6"/>
<line x1="303.6" y1="265.5" x2="303.6" y2="292" stroke-width="1.6" stroke-dasharray="3.5,4"/>
<line x1="303.6" y1="292" x2="303.6" y2="425" stroke-width="1.6"/>
<line x1="305" y1="425" x2="305" y2="441.5" stroke-width="1.6" stroke-dasharray="5,2,10"/>
<line x1="505" y1="110" x2="505" y2="246" stroke-width="1.5"/>
</g>

<!-- ===== DIMENSIONS ===== -->
<g stroke="#141414" fill="none" stroke-width="1.5">
<line x1="47.5" y1="250" x2="47.5" y2="423"/>
<line x1="41" y1="425.8" x2="87" y2="425.8" stroke-width="1.6"/>
<line x1="87" y1="426.1" x2="267" y2="426.1" stroke-width="2.4"/>
<line x1="165" y1="336.8" x2="245" y2="336.8"/>
<line x1="176.7" y1="340" x2="176.7" y2="423"/>
<line x1="244.2" y1="358" x2="244.2" y2="482.5" stroke-width="2"/>
<line x1="366.2" y1="336" x2="366.2" y2="481.5" stroke-width="1.8"/>
<line x1="247" y1="476.7" x2="363" y2="476.7" stroke-width="1.8"/>
<line x1="307" y1="118.5" x2="502" y2="118.5" stroke-width="1.8"/>
<line x1="536.3" y1="215" x2="536.3" y2="255"/>
<line x1="507" y1="262.4" x2="541" y2="262.4" stroke-width="2.2"/>
<line x1="507" y1="245.5" x2="513" y2="245.5" stroke-width="1.5"/>
<line x1="565.2" y1="208.5" x2="565.2" y2="278"/>
<line x1="496" y1="285.3" x2="571" y2="285.3" stroke-width="2"/>
<polyline points="47,136.4 163.5,133.9 197,194" stroke-width="1.7"/>
<line x1="47" y1="136.5" x2="75" y2="136.1" stroke-width="2.8"/>
<line x1="117" y1="135.1" x2="150" y2="134.3" stroke-width="2.4"/>
<polyline points="200,161 266.8,161" stroke-width="1.6"/>
<line x1="266.8" y1="161" x2="279" y2="223" stroke-width="1.6" stroke-dasharray="6,3"/>
<line x1="279" y1="223" x2="279" y2="238" stroke-width="1.6"/>
<polyline points="350,162.5 409,162.5" stroke-width="1.6"/>
<line x1="409.5" y1="162.5" x2="409.5" y2="177" stroke-width="1.6"/>
<line x1="409.5" y1="179" x2="409.5" y2="194" stroke-width="1.6" stroke-dasharray="5,3"/>
</g>
<g fill="#141414">
<circle cx="197.1" cy="193.9" r="4.5"/>
<circle cx="279" cy="238.5" r="4.2"/>
<circle cx="409.8" cy="194.5" r="4.2"/>
<path d="M47.5,248 L51.5,259 L43.5,259 Z"/>
<path d="M47.5,425 L51.5,414 L43.5,414 Z"/>
<path d="M176.7,337.5 L180.7,348.5 L172.7,348.5 Z"/>
<path d="M176.7,425 L180.7,414 L172.7,414 Z"/>
<path d="M244.5,476.7 L256.5,472.7 L256.5,480.7 Z"/>
<path d="M366,476.7 L354,472.7 L354,480.7 Z"/>
<path d="M304.5,118.5 L316.5,114.5 L316.5,122.5 Z"/>
<path d="M504.5,118.5 L492.5,114.5 L492.5,122.5 Z"/>
<path d="M536.3,261.5 L533,257.5 L533,252 L539.6,252 L539.6,257.5 Z"/>
<path d="M565.2,285 L561.8,281 L561.8,275.5 L568.6,275.5 L568.6,281 Z"/>
<circle cx="536.3" cy="206" r="0.9"/>
</g>
<rect x="548.5" y="238.3" width="11.5" height="10.2" rx="3" fill="#fff" stroke="#141414" stroke-width="2.6"/>
<line x1="551" y1="240.5" x2="558" y2="247" stroke="#141414" stroke-width="2"/>

<!-- ===== TEXT ===== -->
<text transform="translate(79.5,118.6) scale(1,1.07)" font-size="28">Ch</text>
<path fill="#141414" d="M121.5,111.3 L123.9,111.3 L123.9,125.5 L121.5,125.5 L121.5,115.6 L118.8,116.6 L118.8,114.4 Z"/>
<text x="214.5" y="152.5" font-size="27.5">Ch</text>
<text transform="translate(354.5,153.8) scale(1,1.06)" font-size="28.5">Ch</text>
<path fill="#141414" d="M396.3,144.5 L398.7,144.5 L398.7,158.7 L396.3,158.7 L396.3,148.6 L394,149.6 L394,147.4 Z"/>
<text transform="translate(397,107.8) scale(1,1.05)" font-size="28.5">L</text>
<path fill="#141414" d="M418.6,100 L421.1,100 L421.1,112.7 L418.6,112.7 L418.6,103.8 L416.7,104.6 L416.7,102.4 Z"/>
<text transform="translate(22.5,344.7) scale(1,1.06)" font-size="28">L</text>
<text x="150.2" y="393" font-size="26.2">P</text>
<text x="297.8" y="471" font-size="26.5">F</text>
<text x="513.4" y="244.75" font-size="26.2">D</text>
</svg>
</body></html>
